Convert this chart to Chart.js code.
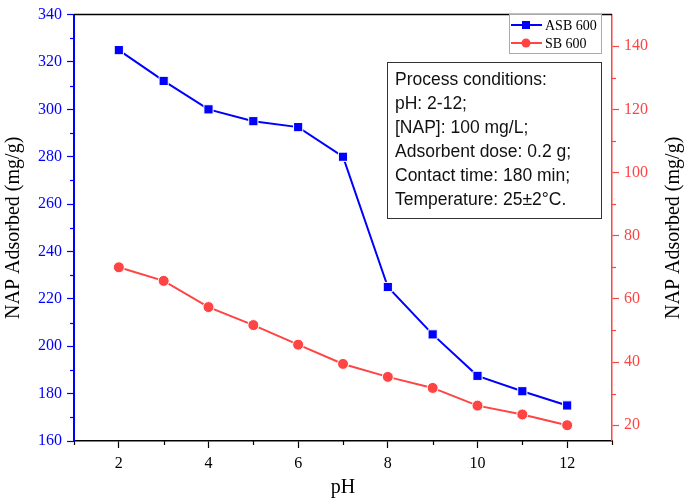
<!DOCTYPE html>
<html>
<head>
<meta charset="utf-8">
<script src="https://cdn.jsdelivr.net/npm/chart.js@4.4.1/dist/chart.umd.min.js"></script>
<style>
  html, body { margin: 0; padding: 0; background: #fff; }
  #wrap { width: 685px; height: 500px; }
</style>
</head>
<body>
<div id="wrap"><canvas id="phChart" width="685" height="500"></canvas></div>
<script>
// data
const phValues = [2, 3, 4, 5, 6, 7, 8, 9, 10, 11, 12];
const asb600 = [325, 312, 300, 295, 292.5, 280, 225, 205, 187.5, 181, 175];
const sb600 = [70.0, 65.7, 57.4, 51.7, 45.5, 39.4, 35.3, 31.8, 26.2, 23.4, 20.0];
const xTickLabels = [2, 4, 6, 8, 10, 12];
const leftTicks = [160, 180, 200, 220, 240, 260, 280, 300, 320, 340];
const rightTicks = [20, 40, 60, 80, 100, 120, 140];
const seriesNames = ['ASB 600', 'SB 600'];
const conditions = [
    'Process conditions:',
    'pH: 2-12;',
    '[NAP]: 100 mg/L;',
    'Adsorbent dose: 0.2 g;',
    'Contact time: 180 min;',
    'Temperature: 25\u00B12\u00B0C.'
];

const BLUE = '#0000ff';
const RED = '#ff4444';
const serif = '"Liberation Serif", "Times New Roman", serif';

function toPoints(ys) {
    return phValues.map((x, i) => ({ x: x, y: ys[i] }));
}

// minor ticks, top frame, legend, note box, right title
const extras = {
    id: 'extras',
    afterDraw(chart) {
        const ctx = chart.ctx;
        const a = chart.chartArea;
        const sx = chart.scales.x, sy = chart.scales.y, sy2 = chart.scales.y2;
        ctx.save();

        // top frame
        ctx.strokeStyle = '#000';
        ctx.lineWidth = 1.5;
        ctx.beginPath();
        ctx.moveTo(a.left, a.top);
        ctx.lineTo(a.right, a.top);
        ctx.stroke();

        // minor ticks
        ctx.lineWidth = 1.2;
        ctx.strokeStyle = '#000';
        for (let v = 1; v <= 13; v += 2) {
            const px = Math.round(sx.getPixelForValue(v)) + 0.5;
            ctx.beginPath();
            ctx.moveTo(px, a.bottom);
            ctx.lineTo(px, a.bottom + 4);
            ctx.stroke();
        }
        ctx.strokeStyle = BLUE;
        for (let v = 170; v < 340; v += 20) {
            const py = Math.round(sy.getPixelForValue(v)) + 0.5;
            ctx.beginPath();
            ctx.moveTo(a.left, py);
            ctx.lineTo(a.left - 4, py);
            ctx.stroke();
        }
        ctx.strokeStyle = RED;
        for (let v = 30; v < 150; v += 20) {
            const py = Math.round(sy2.getPixelForValue(v)) + 0.5;
            ctx.beginPath();
            ctx.moveTo(a.right, py);
            ctx.lineTo(a.right + 4, py);
            ctx.stroke();
        }

        // right axis title, reading upwards
        ctx.fillStyle = '#000';
        ctx.font = '20px ' + serif;
        ctx.textAlign = 'center';
        ctx.textBaseline = 'middle';
        ctx.translate(674, (a.top + a.bottom) / 2);
        ctx.rotate(-Math.PI / 2);
        ctx.fillText('NAP Adsorbed (mg/g)', 0, 0);
        ctx.setTransform(1, 0, 0, 1, 0, 0);

        // legend
        ctx.fillStyle = '#fff';
        ctx.fillRect(509, 14, 92, 39);
        ctx.strokeStyle = '#aaa';
        ctx.lineWidth = 1;
        ctx.strokeRect(509.5, 14.5, 92, 39);
        const colors = [BLUE, RED];
        ctx.font = '14px ' + serif;
        ctx.textAlign = 'left';
        seriesNames.forEach((name, i) => {
            const yy = 25 + i * 18;
            ctx.strokeStyle = colors[i];
            ctx.lineWidth = 2;
            ctx.beginPath();
            ctx.moveTo(511, yy);
            ctx.lineTo(542, yy);
            ctx.stroke();
            ctx.fillStyle = colors[i];
            if (i === 0) {
                ctx.fillRect(522, yy - 4, 8, 8);
            } else {
                ctx.beginPath();
                ctx.arc(526, yy, 4.5, 0, Math.PI * 2);
                ctx.fill();
            }
            ctx.fillStyle = '#000';
            ctx.fillText(name, 545, yy + 1);
        });

        // process conditions box
        ctx.fillStyle = '#fff';
        ctx.fillRect(387, 62, 214, 156);
        ctx.strokeStyle = '#333';
        ctx.lineWidth = 1;
        ctx.strokeRect(387.5, 62.5, 214, 156);
        ctx.fillStyle = '#111';
        ctx.font = '17.5px "Liberation Sans", Arial, sans-serif';
        conditions.forEach((line, i) => {
            ctx.fillText(line, 395, 80 + i * 24);
        });

        ctx.restore();
    }
};

new Chart(document.getElementById('phChart'), {
    type: 'line',
    data: {
        datasets: [{
            label: seriesNames[0],
            data: toPoints(asb600),
            yAxisID: 'y',
            borderColor: BLUE,
            backgroundColor: BLUE,
            borderWidth: 2,
            pointStyle: 'rect',
            pointRadius: 6.5,
            pointBorderColor: '#fff',
            pointBorderWidth: 1,
            tension: 0
        }, {
            label: seriesNames[1],
            data: toPoints(sb600),
            yAxisID: 'y2',
            borderColor: RED,
            backgroundColor: RED,
            borderWidth: 2,
            pointStyle: 'circle',
            pointRadius: 5.5,
            pointBorderColor: '#fff',
            pointBorderWidth: 1,
            tension: 0
        }]
    },
    options: {
        responsive: false,
        animation: false,
        layout: { padding: { top: 8, left: 0, right: 0, bottom: 0 } },
        plugins: {
            legend: { display: false },
            tooltip: { enabled: false }
        },
        scales: {
            x: {
                type: 'linear',
                min: 1,
                max: 13,
                afterBuildTicks: s => { s.ticks = xTickLabels.map(v => ({ value: v })); },
                afterFit: s => { s.height = 59; },
                border: { color: '#000', width: 1.5 },
                grid: { drawOnChartArea: false, tickLength: 7, tickColor: '#000', tickWidth: 1.2 },
                ticks: { color: '#000', font: { family: serif, size: 16 }, padding: 6, maxRotation: 0 },
                title: { display: true, text: 'pH', color: '#000', font: { family: serif, size: 20 }, padding: { top: 0, bottom: 0 } }
            },
            y: {
                position: 'left',
                min: 160,
                max: 340,
                afterBuildTicks: s => { s.ticks = leftTicks.map(v => ({ value: v })); },
                afterFit: s => { s.width = 74; },
                border: { color: BLUE, width: 2 },
                grid: { drawOnChartArea: false, tickLength: 7, tickColor: BLUE, tickWidth: 1.2 },
                ticks: { color: BLUE, font: { family: serif, size: 16 }, padding: 5 },
                title: { display: true, text: 'NAP Adsorbed (mg/g)', color: '#000', font: { family: serif, size: 20 }, padding: { top: 2, bottom: 0 } }
            },
            y2: {
                position: 'right',
                min: 15,
                max: 150,
                afterBuildTicks: s => { s.ticks = rightTicks.map(v => ({ value: v })); },
                afterFit: s => { s.width = 73; },
                border: { color: RED, width: 1.5 },
                grid: { drawOnChartArea: false, tickLength: 7, tickColor: RED, tickWidth: 1.2 },
                ticks: { color: RED, font: { family: serif, size: 16 }, padding: 5 }
            }
        }
    },
    plugins: [extras]
});
</script>
</body>
</html>
